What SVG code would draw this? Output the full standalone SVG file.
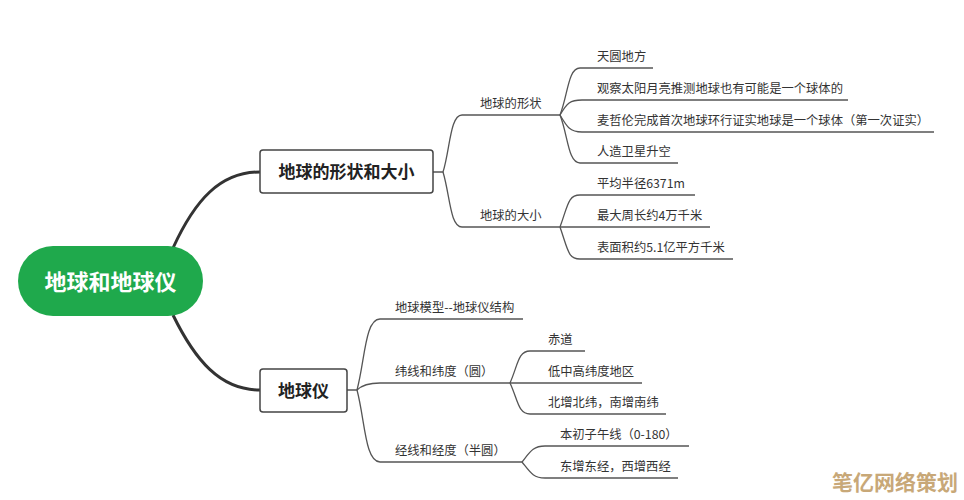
<svg xmlns="http://www.w3.org/2000/svg" width="964" height="500" viewBox="0 0 964 500">
<style>
text{font-family:"Noto Sans CJK SC","Liberation Sans",sans-serif;fill:#333}
.leaf{font-size:12.3px}
.box{fill:#fff;stroke:#444;stroke-width:1.5}
.bt{font-size:17px;font-weight:bold;fill:#222}
.main{fill:none;stroke:#333;stroke-width:3}
.thin{fill:none;stroke:#555;stroke-width:1.3}
</style>
<rect width="964" height="500" fill="#fff"/>
<g id="connectors">
<path class="main" d="M173,248 C195,200 220,172 260,172"/>
<path class="main" d="M173,315 C195,360 220,390 260,390"/>
<path class="thin" d="M433,172 H443 C450,150 450,115 462,115 H560"/>
<path class="thin" d="M443,172 C450,195 450,227 462,227 H560"/>
<path class="thin" d="M560,115 C568,95 568,68 580,68 H653"/>
<path class="thin" d="M560,115 C567,103 570,100 582,100 H848"/>
<path class="thin" d="M560,115 C567,127 570,132 582,132 H934"/>
<path class="thin" d="M560,115 C568,135 568,163 580,163 H678"/>
<path class="thin" d="M560,227 C568,205 568,195 580,195 H695"/>
<path class="thin" d="M560,227 H710"/>
<path class="thin" d="M560,227 C568,250 568,259 580,259 H733"/>
<path class="thin" d="M347,390 H357 C365,360 365,319 380,319 H523"/>
<path class="thin" d="M357,390 C362,385 368,383 380,383 H510"/>
<path class="thin" d="M357,390 C365,420 365,462 380,462 H522"/>
<path class="thin" d="M510,383 C518,365 518,351 530,351 H585"/>
<path class="thin" d="M510,383 H642"/>
<path class="thin" d="M510,383 C518,400 518,414 530,414 H666"/>
<path class="thin" d="M522,462 C530,452 533,446 545,446 H689"/>
<path class="thin" d="M522,462 C530,472 533,478 545,478 H678"/>
</g>
<g id="root">
<rect x="18" y="246" width="185" height="70" rx="35" fill="#1fa94c"/>
<text x="110.5" y="290" text-anchor="middle" font-size="22" font-weight="bold" style="fill:#fff">地球和地球仪</text>
</g>
<g id="b1">
<rect class="box" x="260" y="150" width="173" height="43" rx="3"/>
<text class="bt" x="346.5" y="178" text-anchor="middle">地球的形状和大小</text>
</g>
<g id="b2">
<rect class="box" x="260" y="369" width="87" height="43" rx="3"/>
<text class="bt" x="303.5" y="397" text-anchor="middle">地球仪</text>
</g>
<g id="shape"><text class="leaf" x="480" y="108">地球的形状</text></g>
<g id="size"><text class="leaf" x="480" y="220">地球的大小</text></g>
<g id="s1"><text class="leaf" x="597" y="61">天圆地方</text></g>
<g id="s2"><text class="leaf" x="597" y="93">观察太阳月亮推测地球也有可能是一个球体的</text></g>
<g id="s3"><text class="leaf" x="597" y="125">麦哲伦完成首次地球环行证实地球是一个球体（第一次证实）</text></g>
<g id="s4"><text class="leaf" x="597" y="156">人造卫星升空</text></g>
<g id="z1"><text class="leaf" x="597" y="188">平均半径6371m</text></g>
<g id="z2"><text class="leaf" x="597" y="220">最大周长约4万千米</text></g>
<g id="z3"><text class="leaf" x="597" y="252">表面积约5.1亿平方千米</text></g>
<g id="g1"><text class="leaf" x="395" y="312">地球模型--地球仪结构</text></g>
<g id="g2"><text class="leaf" x="395" y="376">纬线和纬度（圆）</text></g>
<g id="g3"><text class="leaf" x="395" y="455">经线和经度（半圆）</text></g>
<g id="w1"><text class="leaf" x="548" y="344">赤道</text></g>
<g id="w2"><text class="leaf" x="548" y="376">低中高纬度地区</text></g>
<g id="w3"><text class="leaf" x="548" y="407">北增北纬，南增南纬</text></g>
<g id="j1"><text class="leaf" x="560" y="439">本初子午线（0-180）</text></g>
<g id="j2"><text class="leaf" x="560" y="471">东增东经，西增西经</text></g>
<text x="832" y="490" font-size="21" font-weight="bold" style="fill:#c8a878">笔亿网络策划</text>
</svg>
